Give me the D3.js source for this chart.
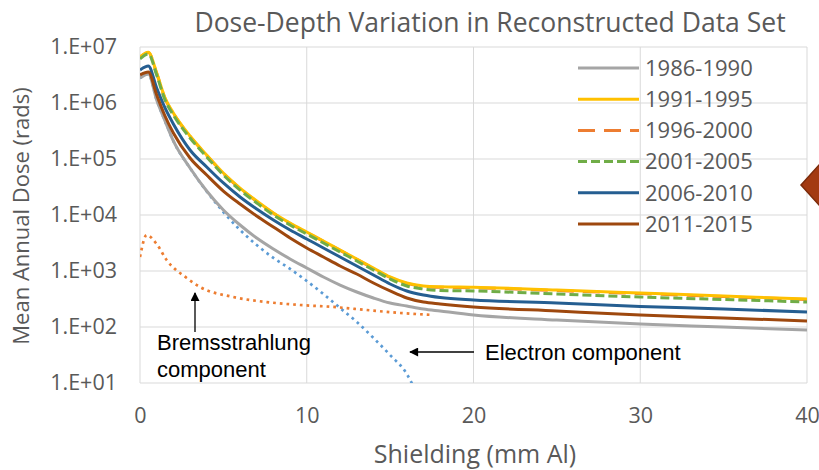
<!DOCTYPE html>
<html>
<head>
<meta charset="utf-8">
<script src="https://cdn.jsdelivr.net/npm/d3@7"></script>
<style>
  body { margin: 0; background: #fff; }
  svg { display: block; font-family: "Open Sans", sans-serif; }
</style>
</head>
<body>
<div id="chart"></div>
<script>
// shielding depth (mm Al) shared by the six period curves
const shielding = [0, 0.5, 1, 1.5, 2, 3, 4, 5, 6, 7, 8, 9, 10, 11, 12, 13, 14, 15, 16, 17, 18, 20, 25, 30, 35, 40]

const periods = ["1986-1990", "1991-1995", "1996-2000", "2001-2005", "2006-2010", "2011-2015"]

// mean annual dose (rads) per period
const dose1986 = [2.79e6, 3.30e6, 1.13e6, 4.77e5, 2.10e5, 6.9e4, 2.68e4, 1.23e4, 6630, 3880, 2470, 1640, 1130, 782, 562, 422, 330, 268, 237, 210, 193, 164, 133, 113, 100, 88]
const dose1991 = [6.6e6, 8.1e6, 3.43e6, 1.23e6, 6.63e5, 2.58e5, 1.18e5, 5.62e4, 3.03e4, 1.78e4, 1.09e4, 7200, 4970, 3440, 2370, 1640, 1130, 782, 611, 540, 522, 512, 458, 405, 358, 316]
const dose1996 = [6.5e6, 8.0e6, 3.38e6, 1.21e6, 6.5e5, 2.53e5, 1.16e5, 5.5e4, 2.96e4, 1.74e4, 1.07e4, 7050, 4870, 3380, 2330, 1610, 1110, 768, 600, 530, 512, 502, 447, 395, 349, 309]
const dose2001 = [6.11e6, 7.5e6, 3.16e6, 1.13e6, 6.11e5, 2.37e5, 1.09e5, 5.18e4, 2.79e4, 1.64e4, 1.0e4, 6630, 4580, 3160, 2180, 1510, 1040, 720, 540, 477, 449, 440, 388, 343, 310, 279]
const dose2006 = [3.88e6, 4.58e6, 1.85e6, 8.15e5, 4.22e5, 1.45e5, 7.2e4, 3.73e4, 2.10e4, 1.28e4, 8150, 5400, 3730, 2580, 1780, 1230, 849, 586, 440, 373, 336, 303, 268, 232, 210, 185]
const dose2011 = [3.16e6, 3.58e6, 1.39e6, 5.86e5, 2.91e5, 1.04e5, 5.18e4, 2.68e4, 1.57e4, 9600, 6110, 3880, 2580, 1780, 1230, 883, 611, 440, 330, 279, 258, 228, 193, 164, 145, 128]

// component curves
const electronDepth = [0, 0.5, 1, 1.5, 2, 3, 4, 5, 6, 7, 8, 9, 10, 11, 12, 13, 14, 15, 16, 16.5]
const electronDose = [2.79e6, 3.30e6, 1.13e6, 4.77e5, 2.10e5, 6.9e4, 2.64e4, 1.13e4, 5400, 2910, 1710, 1090, 663, 388, 218, 123, 63.7, 31.6, 14.5, 7.5]
const bremsDepth = [0, 0.4, 1, 1.6, 2.8, 3.6, 5.6, 7.6, 9.6, 11.6, 13.6, 15.6, 17.6]
const bremsDose = [1780, 4390, 3030, 1570, 750, 518, 343, 279, 247, 228, 201, 178, 164]

const xTicks = [0, 10, 20, 30, 40]
const yTicks = [1e1, 1e2, 1e3, 1e4, 1e5, 1e6, 1e7]

const seriesStyle = {
    "1986-1990": { color: "#A5A5A5", dash: null },
    "1991-1995": { color: "#FFC000", dash: null },
    "1996-2000": { color: "#ED7D31", dash: "17 9" },
    "2001-2005": { color: "#70AD47", dash: "9 4" },
    "2006-2010": { color: "#255E91", dash: null },
    "2011-2015": { color: "#9E480E", dash: null },
}
const periodDose = {
    "1986-1990": dose1986,
    "1991-1995": dose1991,
    "1996-2000": dose1996,
    "2001-2005": dose2001,
    "2006-2010": dose2006,
    "2011-2015": dose2011,
}

const width = 819
const height = 470
const margin = { top: 47, right: 12, bottom: 87, left: 140 }
const textGrey = "#595959"
const gridGrey = "#D9D9D9"

const svg = d3.select("#chart").append("svg")
    .attr("width", width)
    .attr("height", height)

const x = d3.scaleLinear().domain([0, 40]).range([margin.left, width - margin.right])
const y = d3.scaleLog().domain([10, 1e7]).range([height - margin.bottom, margin.top])

svg.append("defs").append("clipPath").attr("id", "plot-clip")
    .append("rect")
    .attr("x", x(0)).attr("y", y(1e7))
    .attr("width", x(40) - x(0)).attr("height", y(10) - y(1e7))

// gridlines
const grid = svg.append("g")
grid.selectAll("line.h").data(yTicks).enter().append("line")
    .attr("x1", x(0)).attr("x2", x(40))
    .attr("y1", (d) => y(d)).attr("y2", (d) => y(d))
    .attr("stroke", gridGrey).attr("stroke-width", 1)
grid.selectAll("line.v").data(xTicks).enter().append("line")
    .attr("x1", (d) => x(d)).attr("x2", (d) => x(d))
    .attr("y1", y(1e7)).attr("y2", y(10))
    .attr("stroke", gridGrey).attr("stroke-width", 1)

// axes (labels only)
const yAxis = svg.append("g")
    .attr("transform", "translate(" + (margin.left - 23) + ",0)")
    .call(d3.axisLeft(y).tickValues(yTicks).tickSize(0)
        .tickFormat((d) => "1.E+" + String(Math.round(Math.log10(d))).padStart(2, "0")))
const xAxis = svg.append("g")
    .attr("transform", "translate(0," + (y(10) + 22) + ")")
    .call(d3.axisBottom(x).tickValues(xTicks).tickSize(0))
for (const ax of [xAxis, yAxis]) {
    ax.select(".domain").remove()
    ax.selectAll("text")
        .attr("fill", textGrey)
        .style("font-family", "'Open Sans', sans-serif")
        .style("font-size", "21.5px")
}
yAxis.selectAll("text").attr("x", 0)

const line = d3.line()
    .x((d) => x(d[0]))
    .y((d) => y(d[1]))
    .curve(d3.curveMonotoneX)

const plot = svg.append("g").attr("clip-path", "url(#plot-clip)")

// electron and bremsstrahlung components
plot.append("path")
    .attr("d", line(d3.zip(electronDepth, electronDose)))
    .attr("fill", "none")
    .attr("stroke", "#5B9BD5")
    .attr("stroke-width", 2.7)
    .attr("stroke-dasharray", "2.7 4")
plot.append("path")
    .attr("d", line(d3.zip(bremsDepth, bremsDose)))
    .attr("fill", "none")
    .attr("stroke", "#ED7D31")
    .attr("stroke-width", 2.7)
    .attr("stroke-dasharray", "2.7 4")

// period curves; 1996-2000 sits beneath 1991-1995
const drawOrder = ["1986-1990", "1996-2000", "1991-1995", "2001-2005", "2006-2010", "2011-2015"]
plot.selectAll("path.period").data(drawOrder).enter().append("path")
    .attr("class", "period")
    .attr("d", (p) => line(d3.zip(shielding, periodDose[p])))
    .attr("fill", "none")
    .attr("stroke", (p) => seriesStyle[p].color)
    .attr("stroke-width", 3)
    .attr("stroke-dasharray", (p) => seriesStyle[p].dash)

// legend
const legend = svg.append("g").attr("transform", "translate(578,68)")
const rows = legend.selectAll("g").data(periods).enter().append("g")
    .attr("transform", (d, i) => "translate(0," + i * 31.2 + ")")
rows.append("line")
    .attr("x1", 0).attr("x2", 61)
    .attr("stroke", (p) => seriesStyle[p].color)
    .attr("stroke-width", 3)
    .attr("stroke-dasharray", (p) => seriesStyle[p].dash)
rows.append("text")
    .attr("x", 67).attr("dy", "0.35em")
    .attr("fill", textGrey)
    .style("font-size", "22px")
    .text((p) => p)

// titles
svg.append("text")
    .attr("x", 490).attr("y", 32)
    .attr("text-anchor", "middle")
    .attr("fill", textGrey)
    .style("font-size", "26.5px")
    .text("Dose-Depth Variation in Reconstructed Data Set")
svg.append("text")
    .attr("x", 475).attr("y", 463)
    .attr("text-anchor", "middle")
    .attr("fill", textGrey)
    .style("font-size", "25px")
    .text("Shielding (mm Al)")
svg.append("text")
    .attr("transform", "translate(29,216) rotate(-90)")
    .attr("text-anchor", "middle")
    .attr("fill", textGrey)
    .style("font-size", "22px")
    .text("Mean Annual Dose (rads)")

// annotations
svg.append("defs").append("marker")
    .attr("id", "head")
    .attr("viewBox", "0 0 10 10")
    .attr("refX", 9).attr("refY", 5)
    .attr("markerWidth", 10).attr("markerHeight", 9)
    .attr("markerUnits", "userSpaceOnUse")
    .attr("orient", "auto")
    .append("path").attr("d", "M0,0 L10,5 L0,10 Z").attr("fill", "#000")

svg.append("line")
    .attr("x1", 195).attr("y1", 332).attr("x2", 195).attr("y2", 293)
    .attr("stroke", "#000").attr("stroke-width", 1.3)
    .attr("marker-end", "url(#head)")
svg.append("line")
    .attr("x1", 474).attr("y1", 352).attr("x2", 410).attr("y2", 352)
    .attr("stroke", "#000").attr("stroke-width", 1.3)
    .attr("marker-end", "url(#head)")

const note = svg.append("g")
    .style("font-family", "'Liberation Sans', Arial, sans-serif")
    .style("font-size", "22px")
    .attr("fill", "#000")
note.append("text").attr("x", 157).attr("y", 350).text("Bremsstrahlung")
note.append("text").attr("x", 157).attr("y", 377).text("component")
note.append("text").attr("x", 485).attr("y", 360).text("Electron component")

// slide pointer at the right edge
svg.append("path")
    .attr("d", "M801,185 L819,165 L838,185 L819,205 Z")
    .attr("fill", "#A33A12")
    .attr("stroke", "#7B2A0A")
    .attr("stroke-width", 1.5)
</script>
</body>
</html>
